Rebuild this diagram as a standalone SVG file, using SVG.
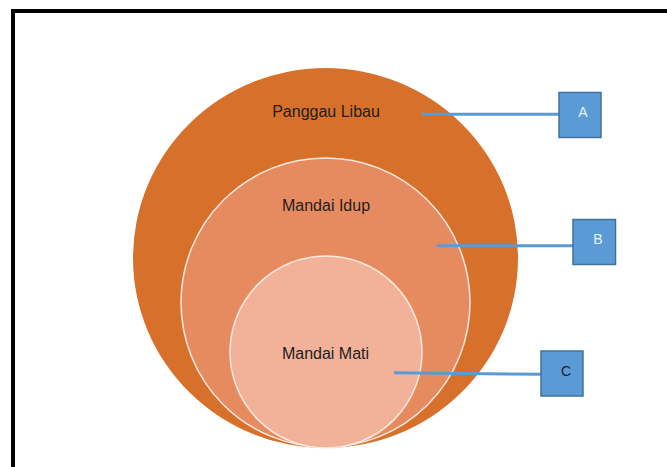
<svg xmlns="http://www.w3.org/2000/svg" width="667" height="467" viewBox="0 0 667 467">
<style>
.lbl{font-family:"Liberation Sans",Arial,sans-serif;font-size:16px;fill:#1e1e1e;text-anchor:middle}
.key{font-family:"Liberation Sans",Arial,sans-serif;font-size:14px;text-anchor:middle}
.box{fill:#5B9BD5;stroke:#41719C;stroke-width:1.5}
.conn{stroke:#5B9BD5;stroke-width:3;fill:none}
</style>
<rect width="667" height="467" fill="#ffffff"/>
<path d="M13,467 V11 H667" fill="none" stroke="#000" stroke-width="4"/>
<g id="panggau-libau">
<ellipse cx="325.5" cy="258" rx="192.5" ry="190" fill="#D6702B"/>
<text class="lbl" x="326" y="117">Panggau Libau</text>
</g>
<g id="mandai-idup">
<circle cx="325.5" cy="302.5" r="144.5" fill="#E68B60" stroke="#FBE9E0" stroke-width="1.5"/>
<text class="lbl" x="326" y="210.5">Mandai Idup</text>
</g>
<g id="mandai-mati">
<circle cx="326" cy="352" r="96" fill="#F2B29A" stroke="#FBE9E0" stroke-width="1.5"/>
<text class="lbl" x="325.5" y="359">Mandai Mati</text>
</g>
<g id="connectors">
<line class="conn" x1="422" y1="114.3" x2="559" y2="114.3"/>
<line class="conn" x1="436.7" y1="245.7" x2="573" y2="245.7"/>
<line class="conn" x1="394" y1="372.7" x2="541" y2="374.3"/>
</g>
<g id="A">
<rect class="box" x="559" y="92.5" width="42" height="45"/>
<text class="key" x="583" y="116.5" fill="#EAF1FA">A</text>
</g>
<g id="B">
<rect class="box" x="573" y="219.5" width="42.5" height="45"/>
<text class="key" x="598" y="244" fill="#EAF1FA">B</text>
</g>
<g id="C">
<rect class="box" x="541" y="351" width="42" height="45"/>
<text class="key" x="566" y="375.5" fill="#222222">C</text>
</g>
</svg>
